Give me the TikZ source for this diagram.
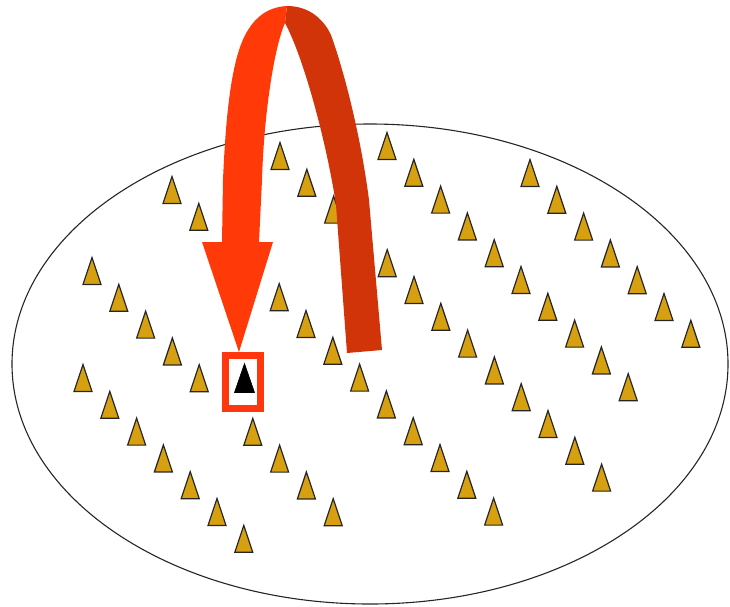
\documentclass[tikz,border=0pt]{standalone}
\definecolor{gold}{RGB}{214,160,16}
\definecolor{lightred}{RGB}{255,58,8}
\definecolor{darkred}{RGB}{210,52,10}
\definecolor{boxred}{RGB}{255,55,15}
\begin{document}
\begin{tikzpicture}[x=1pt,y=-1pt,
  tri/.style={fill=gold,draw=black!85,line width=1.2pt,line join=miter},
  blacktri/.style={fill=black,draw=black,line width=0.6pt}]
\useasboundingbox (0,0) rectangle (730,606);
% field
\draw[line width=1.1pt,black!85] (370,364) ellipse [x radius=358, y radius=240];
% golden triangles along diagonals
\foreach \sx/\sy/\ks in {
  172/190/{0,1,4,5,6,7,8,9,10,11,12},
  280/156/{0,1,2,4,5,6,7,8,9,10,11,12},
  387/146/{0,1,2,3,4,5,6,7,8,9},
  530/173/{0,1,2,3,4,5,6},
  92/271/{0,1,2,3,4,6,7,8,9},
  83/378/{0,1,2,3,4,5,6}}{
  \foreach \k in \ks {
    \draw[tri] ({\sx+26.8*\k-9},{\sy+26.8*\k+13.5}) -- ({\sx+26.8*\k},{\sy+26.8*\k-13.5})
       -- ({\sx+26.8*\k+9},{\sy+26.8*\k+13.5}) -- cycle;
  }
}
% highlighted element
\node[draw=boxred,line width=7pt,minimum width=35pt,minimum height=53pt,inner sep=0pt] (box) at (243,381.5) {};
\draw[blacktri] (234.5,392.5) -- (244.5,363.5) -- (254.5,392.5) -- cycle;
% curved arrow: back (dark) part
\fill[darkred] (287,6) .. controls (308,6) and (323,18) .. (331,35)
  .. controls (342,65) and (360,130) .. (369,200) -- (382,350)
  -- (347,353) -- (336,205) .. controls (328,150) and (305,60) .. (285,23) -- cycle;
% curved arrow: front (light) part with head
\coordinate (tip) at (239,352);
\fill[lightred] (tip) -- (202,242) -- (222,242) -- (223,180)
  .. controls (226,110) and (232,55) .. (248,30)
  .. controls (256,17) and (268,7) .. (287,6)
  -- (285,23) .. controls (275,45) and (264,110) .. (262,180) -- (259,242)
  -- (273,242) -- cycle;
\end{tikzpicture}
\end{document}
